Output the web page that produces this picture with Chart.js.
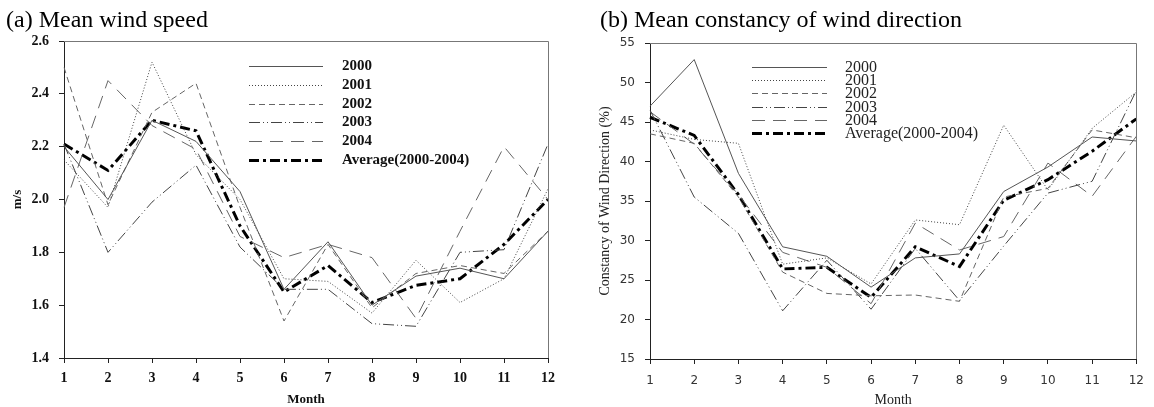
<!DOCTYPE html>
<html>
<head>
<meta charset="utf-8">
<script src="https://cdn.jsdelivr.net/npm/chart.js@4.4.1/dist/chart.umd.min.js"></script>
<style>
    html, body { margin: 0; padding: 0; background: #fff; }
    #wrap { position: relative; width: 1154px; height: 407px; }
    .panel { position: absolute; top: 0; width: 577px; height: 407px; }
</style>
</head>
<body>
<div id="wrap">
    <div class="panel" style="left:0"><canvas id="speedChart"></canvas></div>
    <div class="panel" style="left:577px"><canvas id="dirChart"></canvas></div>
</div>
<script>
// Monthly data, 2000-2004
const months = ['1', '2', '3', '4', '5', '6', '7', '8', '9', '10', '11', '12'];
const seriesLabels = ['2000', '2001', '2002', '2003', '2004', 'Average(2000-2004)'];

// (a) mean wind speed, m/s
const speed2000 = [2.20, 2.00, 2.30, 2.22, 2.03, 1.66, 1.84, 1.60, 1.71, 1.74, 1.70, 1.88];
const speed2001 = [2.15, 1.97, 2.52, 2.17, 2.00, 1.70, 1.69, 1.57, 1.77, 1.61, 1.70, 2.04];
const speed2002 = [2.50, 1.98, 2.33, 2.44, 1.97, 1.54, 1.83, 1.59, 1.72, 1.75, 1.72, 1.88];
const speed2003 = [2.21, 1.80, 1.99, 2.13, 1.82, 1.66, 1.66, 1.53, 1.52, 1.80, 1.81, 2.21];
const speed2004 = [1.97, 2.45, 2.28, 2.19, 1.86, 1.78, 1.83, 1.78, 1.55, 1.88, 2.20, 2.00];
const speedAvg  = [2.21, 2.11, 2.30, 2.26, 1.90, 1.65, 1.75, 1.61, 1.675, 1.70, 1.83, 2.00];

// (b) mean constancy of wind direction, %
const dir2000 = [47.0, 52.9, 38.5, 29.2, 28.0, 24.1, 27.8, 28.3, 36.2, 39.3, 43.1, 42.6];
const dir2001 = [44.0, 42.8, 42.3, 27.0, 27.8, 24.5, 32.6, 32.0, 44.6, 36.4, 44.2, 48.8];
const dir2002 = [43.5, 42.3, 35.5, 26.0, 23.3, 23.0, 23.1, 22.3, 35.5, 36.6, 44.0, 43.0];
const dir2003 = [46.5, 35.5, 30.9, 21.1, 27.5, 21.3, 29.0, 22.4, 29.3, 36.0, 37.5, 49.0];
const dir2004 = [46.3, 42.2, 35.8, 28.5, 26.6, 22.0, 32.2, 28.8, 30.5, 39.8, 35.6, 43.2];
const dirAvg  = [45.6, 43.3, 35.8, 26.4, 26.6, 22.8, 29.2, 26.7, 35.1, 37.7, 41.3, 45.4];

const SERIF = '"Liberation Serif", "Times New Roman", serif';
const SANS = '"DejaVu Sans", Verdana, sans-serif';

// line look for each year, same in both panels
const lineStyles = [
    { borderColor: '#555', borderWidth: 1, borderDash: [] },
    { borderColor: '#444', borderWidth: 1, borderDash: [1, 2] },
    { borderColor: '#666', borderWidth: 1, borderDash: [6, 4] },
    { borderColor: '#444', borderWidth: 1, borderDash: [11, 3, 1, 3, 1, 3] },
    { borderColor: '#666', borderWidth: 1, borderDash: [13, 8] },
    { borderColor: '#000', borderWidth: 3, borderDash: [10, 4, 3, 4] }
];

function buildDatasets(arrays) {
    return arrays.map((values, i) => ({
        label: seriesLabels[i],
        data: values,
        ...lineStyles[i],
        pointRadius: 0,
        tension: 0,
        fill: false
    }));
}

// frame, heading and hand-placed legend
const panelDecor = {
    id: 'panelDecor',
    afterDraw(chart, args, opts) {
        const { ctx, chartArea: a } = chart;
        ctx.save();
        ctx.strokeStyle = '#777';
        ctx.lineWidth = 1;
        ctx.beginPath();
        ctx.moveTo(a.left, Math.round(a.top) + 0.5);
        ctx.lineTo(Math.round(a.right) + 0.5, Math.round(a.top) + 0.5);
        ctx.lineTo(Math.round(a.right) + 0.5, a.bottom);
        ctx.stroke();

        ctx.fillStyle = '#000';
        ctx.font = opts.titleFont;
        ctx.textBaseline = 'alphabetic';
        ctx.textAlign = 'left';
        ctx.fillText(opts.title, opts.titleX, opts.titleY);

        ctx.font = opts.legendFont;
        ctx.textBaseline = 'middle';
        chart.data.datasets.forEach((ds, i) => {
            const y = Math.round(opts.legendY + i * opts.legendStep) + 0.5;
            ctx.strokeStyle = ds.borderColor;
            ctx.lineWidth = ds.borderWidth;
            ctx.setLineDash(ds.borderDash);
            ctx.beginPath();
            ctx.moveTo(opts.legendX0, y);
            ctx.lineTo(opts.legendX1, y);
            ctx.stroke();
            ctx.setLineDash([]);
            ctx.fillStyle = opts.legendColor;
            ctx.fillText(ds.label, opts.legendTextX, y);
        });
        ctx.restore();
    }
};

const speedChart = new Chart(document.getElementById('speedChart'), {
    type: 'line',
    data: {
        labels: months,
        datasets: buildDatasets([speed2000, speed2001, speed2002, speed2003, speed2004, speedAvg])
    },
    options: {
        responsive: true,
        maintainAspectRatio: false,
        animation: false,
        layout: { padding: { top: 41, right: 29, left: 10, bottom: 0 } },
        plugins: {
            legend: { display: false },
            tooltip: { enabled: false },
            panelDecor: {
                title: '(a) Mean wind speed',
                titleFont: '24px ' + SERIF,
                titleX: 6, titleY: 27,
                legendFont: 'bold 15px ' + SERIF,
                legendColor: '#111',
                legendX0: 249, legendX1: 323, legendTextX: 342,
                legendY: 66, legendStep: 18.8
            }
        },
        scales: {
            x: {
                offset: false,
                grid: { drawOnChartArea: false, drawTicks: true, tickLength: 5, color: '#222' },
                border: { color: '#222', width: 1 },
                ticks: { font: { family: SERIF, size: 14, weight: 'bold' }, color: '#111', padding: 7, maxRotation: 0, autoSkip: false },
                title: { display: true, text: 'Month', font: { family: SERIF, size: 13, weight: 'bold' }, color: '#111', padding: 0 },
                afterFit(scale) { scale.height = 49; }
            },
            y: {
                min: 1.4,
                max: 2.6,
                grid: { drawOnChartArea: false, drawTicks: true, tickLength: 5, color: '#222' },
                border: { color: '#222', width: 1 },
                ticks: { stepSize: 0.2, font: { family: SERIF, size: 14, weight: 'bold' }, color: '#111', padding: 10,
                    callback: v => v.toFixed(1) },
                title: { display: true, text: 'm/s', font: { family: SERIF, size: 13, weight: 'bold' }, color: '#111', padding: 0 },
                afterFit(scale) { scale.width = 54; }
            }
        }
    },
    plugins: [panelDecor]
});

const dirChart = new Chart(document.getElementById('dirChart'), {
    type: 'line',
    data: {
        labels: months,
        datasets: buildDatasets([dir2000, dir2001, dir2002, dir2003, dir2004, dirAvg])
    },
    options: {
        responsive: true,
        maintainAspectRatio: false,
        animation: false,
        layout: { padding: { top: 43, right: 15, left: 20, bottom: 0 } },
        plugins: {
            legend: { display: false },
            tooltip: { enabled: false },
            panelDecor: {
                title: '(b) Mean constancy of wind direction',
                titleFont: '24px ' + SERIF,
                titleX: 23, titleY: 27,
                legendFont: '16px ' + SERIF,
                legendColor: '#222',
                legendX0: 175, legendX1: 250, legendTextX: 268,
                legendY: 67, legendStep: 13.2
            }
        },
        scales: {
            x: {
                offset: false,
                grid: { drawOnChartArea: false, drawTicks: true, tickLength: 5, color: '#222' },
                border: { color: '#222', width: 1 },
                ticks: { font: { family: SANS, size: 12 }, color: '#333', padding: 10, maxRotation: 0, autoSkip: false },
                title: { display: true, text: 'Month', font: { family: SERIF, size: 14 }, color: '#222', padding: { bottom: -2 } },
                afterFit(scale) { scale.height = 48; }
            },
            y: {
                min: 15,
                max: 55,
                grid: { drawOnChartArea: false, drawTicks: true, tickLength: 5, color: '#222' },
                border: { color: '#222', width: 1 },
                ticks: { stepSize: 5, font: { family: SANS, size: 12 }, color: '#333', padding: 10 },
                title: { display: true, text: 'Constancy of Wind Direction (%)', font: { family: SERIF, size: 14 }, color: '#222', padding: 0 },
                afterFit(scale) { scale.width = 53; }
            }
        }
    },
    plugins: [panelDecor]
});
</script>
</body>
</html>
